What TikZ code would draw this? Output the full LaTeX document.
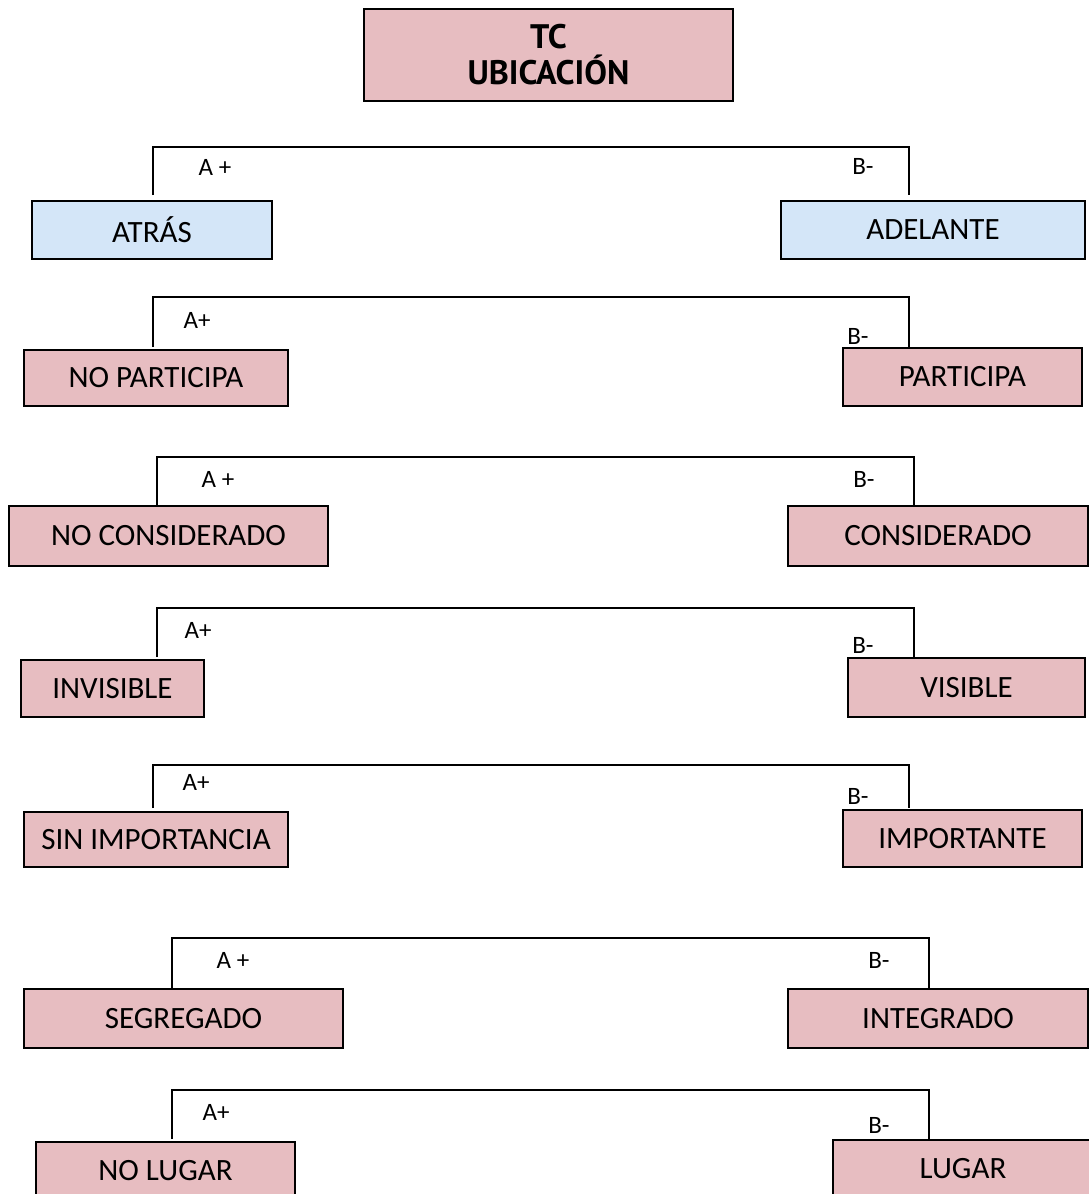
\documentclass[tikz,border=0pt]{standalone}
\usepackage{fontspec}
\setmainfont{Carlito}
\newfontfamily\titlefont{PT Sans}
\usepackage{tikz}

\definecolor{rosa}{RGB}{231,189,193}
\definecolor{celeste}{RGB}{212,230,248}

\begin{document}
\begin{tikzpicture}[x=1pt,y=-1pt,
    caja/.style={draw=black,line width=1.8pt,fill=rosa,inner sep=0pt,
      font=\fontsize{31}{37}\selectfont},
    cajaazul/.style={caja,fill=celeste},
    etiq/.style={inner sep=0pt,font=\fontsize{25}{30}\selectfont},
    rama/.style={line width=1.6pt}]

    \clip (0,0) rectangle (1089,1194);

    \node[caja,minimum width=369pt,minimum height=92pt,align=center,
      font=\titlefont\bfseries\fontsize{34}{36}\selectfont]
      (tc) at (548.5,55) {TC\\UBICACIÓN};

    % fila 1
    \node[cajaazul,minimum width=240pt,minimum height=58pt] (atras) at (152,230) {ATRÁS};
    \node[cajaazul,minimum width=304pt,minimum height=58pt] (adelante) at (933,230) {ADELANTE};
    \coordinate (a1) at (153,195);
    \coordinate (b1) at (909,195);
    \draw[rama] (a1) -- ++(0,-48) -| (b1);
    \node[etiq] (a1lab) at (215,167) {A +};
    \node[etiq] (b1lab) at (863,166) {B-};

    % fila 2
    \node[caja,minimum width=264pt,minimum height=56pt] (noparticipa) at (156,378) {NO PARTICIPA};
    \node[caja,minimum width=239pt,minimum height=58pt] (participa) at (962.5,377) {PARTICIPA};
    \coordinate (a2) at (153,347);
    \coordinate (b2) at (909,347);
    \draw[rama] (a2) -- ++(0,-50) -| (b2);
    \node[etiq] (a2lab) at (197,320) {A+};
    \node[etiq] (b2lab) at (858,336) {B-};

    % fila 3
    \node[caja,minimum width=319pt,minimum height=60pt] (noconsiderado) at (168.5,536) {NO CONSIDERADO};
    \node[caja,minimum width=300pt,minimum height=60pt] (considerado) at (938,536) {CONSIDERADO};
    \coordinate (a3) at (157,505);
    \coordinate (b3) at (914,505);
    \draw[rama] (a3) -- ++(0,-48) -| (b3);
    \node[etiq] (a3lab) at (218,479) {A +};
    \node[etiq] (b3lab) at (864,479) {B-};

    % fila 4
    \node[caja,minimum width=183pt,minimum height=57pt] (invisible) at (112.5,688.5) {INVISIBLE};
    \node[caja,minimum width=237pt,minimum height=59pt] (visible) at (966.5,687.5) {VISIBLE};
    \coordinate (a4) at (157,657);
    \coordinate (b4) at (914,657);
    \draw[rama] (a4) -- ++(0,-49) -| (b4);
    \node[etiq] (a4lab) at (198,630) {A+};
    \node[etiq] (b4lab) at (863,645) {B-};

    % fila 5
    \node[caja,minimum width=264pt,minimum height=55pt] (sinimportancia) at (156,839.5) {SIN IMPORTANCIA};
    \node[caja,minimum width=239pt,minimum height=57pt] (importante) at (962.5,838.5) {IMPORTANTE};
    \coordinate (a5) at (153,808);
    \coordinate (b5) at (909,808);
    \draw[rama] (a5) -- ++(0,-43) -| (b5);
    \node[etiq] (a5lab) at (196,782) {A+};
    \node[etiq] (b5lab) at (858,796) {B-};

    % fila 6
    \node[caja,minimum width=319pt,minimum height=59pt] (segregado) at (183.5,1018.5) {SEGREGADO};
    \node[caja,minimum width=300pt,minimum height=59pt] (integrado) at (938,1018.5) {INTEGRADO};
    \coordinate (a6) at (172,988);
    \coordinate (b6) at (929,988);
    \draw[rama] (a6) -- ++(0,-50) -| (b6);
    \node[etiq] (a6lab) at (233,960) {A +};
    \node[etiq] (b6lab) at (879,960) {B-};

    % fila 7
    \node[caja,minimum width=259pt,minimum height=58pt] (nolugar) at (165.5,1171) {NO LUGAR};
    \node[caja,minimum width=260pt,minimum height=58pt] (lugar) at (963,1169) {LUGAR};
    \coordinate (a7) at (172,1139);
    \coordinate (b7) at (929,1139);
    \draw[rama] (a7) -- ++(0,-49) -| (b7);
    \node[etiq] (a7lab) at (216,1112) {A+};
    \node[etiq] (b7lab) at (879,1125) {B-};

\end{tikzpicture}
\end{document}
